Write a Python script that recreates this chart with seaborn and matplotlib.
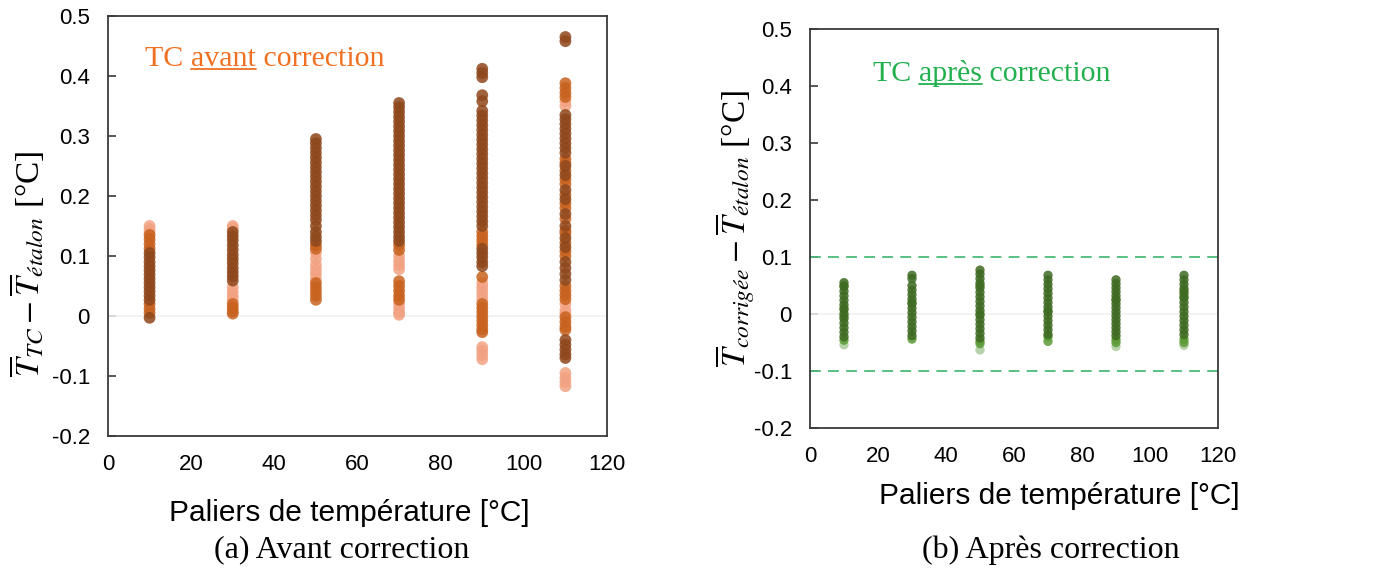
import numpy as np
import pandas as pd
import matplotlib
matplotlib.use("Agg")
import matplotlib.pyplot as plt
from matplotlib.lines import Line2D
import seaborn as sns

# ---------------- data ----------------
paliers = [10, 30, 50, 70, 90, 110]
xticks = [0, 20, 40, 60, 80, 100, 120]
yticks = [-0.2, -0.1, 0, 0.1, 0.2, 0.3, 0.4, 0.5]
ytick_labels = ["-0.2", "-0.1", "0", "0.1", "0.2", "0.3", "0.4", "0.5"]

# Avant correction (three shades of thermocouple groups)
avant_dark = {
    10: [0.105, 0.098, 0.090, 0.083, 0.076, 0.069, 0.062, 0.055, 0.048, 0.041, 0.034, 0.027, -0.003],
    30: [0.140, 0.133, 0.126, 0.118, 0.110, 0.102, 0.095, 0.088, 0.080, 0.073, 0.066, 0.059],
    50: [0.295, 0.288, 0.280, 0.272, 0.264, 0.256, 0.248, 0.240, 0.232, 0.224, 0.216, 0.208, 0.200,
         0.192, 0.184, 0.176, 0.168, 0.160, 0.150, 0.140, 0.132, 0.125],
    70: [0.355, 0.348, 0.340, 0.332, 0.324, 0.316, 0.308, 0.300, 0.292, 0.284, 0.276, 0.268, 0.260,
         0.252, 0.244, 0.236, 0.228, 0.220, 0.212, 0.204, 0.196, 0.188, 0.180, 0.172, 0.164, 0.156,
         0.148, 0.140, 0.132, 0.125],
    90: [0.412, 0.405, 0.398, 0.368, 0.358, 0.342, 0.334, 0.326, 0.318, 0.310, 0.302, 0.294, 0.286,
         0.278, 0.270, 0.262, 0.254, 0.246, 0.238, 0.230, 0.222, 0.214, 0.206, 0.198, 0.190, 0.182,
         0.174, 0.166, 0.158, 0.150, 0.112, 0.105, 0.098, 0.090, 0.083],
    110: [0.465, 0.458, 0.335, 0.328, 0.320, 0.312, 0.304, 0.296, 0.288, 0.280, 0.272, 0.250, 0.235,
          0.210, 0.195, 0.170, 0.150, 0.130, 0.115, 0.090, 0.080, 0.070, 0.060, -0.040, -0.048,
          -0.056, -0.064, -0.070],
}
avant_mid = {
    10: [0.135, 0.128, 0.120, 0.112, 0.020, 0.012, 0.005],
    30: [0.020, 0.014, 0.008, 0.004],
    50: [0.118, 0.112, 0.055, 0.048, 0.041, 0.034, 0.027],
    70: [0.118, 0.110, 0.058, 0.050, 0.042, 0.034, 0.027],
    90: [0.140, 0.133, 0.126, 0.119, 0.065, 0.020, 0.013, 0.006, -0.001, -0.008, -0.015, -0.022, -0.027],
    110: [0.388, 0.380, 0.372, 0.365, 0.262, 0.255, 0.242, 0.228, 0.220, 0.202, 0.188, 0.180, 0.162,
          0.142, 0.138, 0.122, 0.108, 0.100, 0.050, 0.042, 0.035, 0.028, -0.002, -0.010, -0.018, -0.023],
}
avant_light = {
    10: [0.150, 0.145, 0.140],
    30: [0.150, 0.146, 0.048, 0.040, 0.033, 0.027],
    50: [0.105, 0.095, 0.085, 0.077, 0.070, 0.062],
    70: [0.100, 0.092, 0.085, 0.078, 0.020, 0.013, 0.006, 0.002],
    90: [0.055, 0.048, 0.041, 0.034, 0.027, -0.052, -0.058, -0.065, -0.072],
    110: [0.358, 0.350, 0.020, 0.010, 0.004, -0.095, -0.103, -0.110, -0.117],
}

# Après correction
apres_dark = {
    10: [0.055, 0.048, 0.040, 0.032, 0.024, 0.016, 0.008, 0.000, -0.008, -0.016, -0.024, -0.032, -0.040],
    30: [0.068, 0.062, 0.050, 0.042, 0.034, 0.026, 0.018, 0.010, 0.002, -0.006, -0.014, -0.022, -0.030, -0.038],
    50: [0.077, 0.070, 0.062, 0.054, 0.046, 0.038, 0.030, 0.022, 0.014, 0.006, -0.002, -0.010, -0.018,
         -0.026, -0.034, -0.042],
    70: [0.068, 0.060, 0.052, 0.044, 0.036, 0.028, 0.020, 0.012, 0.004, -0.004, -0.012, -0.020, -0.028, -0.036],
    90: [0.060, 0.053, 0.046, 0.039, 0.032, 0.025, 0.018, 0.011, 0.004, -0.003, -0.010, -0.017, -0.024,
         -0.031, -0.038],
    110: [0.068, 0.060, 0.052, 0.044, 0.036, 0.028, 0.020, 0.012, 0.004, -0.004, -0.012, -0.020, -0.028, -0.036],
}
apres_mid = {
    10: [0.050, 0.010, -0.004, -0.046],
    30: [0.020, -0.044],
    50: [0.050, 0.000, -0.048, -0.052],
    70: [0.005, -0.040, -0.048],
    90: [0.025, -0.045, -0.050],
    110: [0.040, 0.030, -0.044, -0.050],
}
apres_light = {
    10: [-0.054],
    30: [],
    50: [-0.063],
    70: [],
    90: [-0.057],
    110: [-0.055],
}
tolerance = [0.1, -0.1]


def to_frame(groups):
    rows = []
    for name, d in groups:
        for p in paliers:
            for v in d[p]:
                rows.append({"palier": p, "ecart": v, "groupe": name})
    return pd.DataFrame(rows)


df_avant = to_frame([("light", avant_light), ("mid", avant_mid), ("dark", avant_dark)])
df_apres = to_frame([("light", apres_light), ("mid", apres_mid), ("dark", apres_dark)])

pal_avant = {"dark": "#8E471B", "mid": "#C8621E", "light": "#F2A283"}
pal_apres = {"dark": "#3F6A22", "mid": "#5C9A36", "light": "#A9CC9A"}

# ---------------- style ----------------
sns.set_theme(style="white")
plt.rcParams["font.family"] = ["Liberation Sans", "DejaVu Sans"]
plt.rcParams["mathtext.fontset"] = "stix"
SERIF = ["Liberation Serif", "DejaVu Serif"]

fig = plt.figure(figsize=(13.76, 5.72), dpi=100)
ax1 = fig.add_axes([108 / 1376, 1 - 436 / 572, 499 / 1376, 420 / 572])
ax2 = fig.add_axes([810 / 1376, 1 - 428 / 572, 408 / 1376, 399 / 572])

sns.scatterplot(data=df_avant, x="palier", y="ecart", hue="groupe", palette=pal_avant,
                s=72, alpha=0.85, linewidth=0, legend=False, ax=ax1, zorder=3)
sns.scatterplot(data=df_apres, x="palier", y="ecart", hue="groupe", palette=pal_apres,
                s=45, alpha=0.85, linewidth=0, legend=False, ax=ax2, zorder=3)

for ax in (ax1, ax2):
    ax.set_xlim(0, 120)
    ax.set_ylim(-0.2, 0.5)
    ax.set_xticks(xticks)
    ax.set_yticks(yticks)
    ax.set_yticklabels(ytick_labels)
    ax.axhline(0, color="#f1f1f1", lw=1.2, zorder=1)
    for sp in ax.spines.values():
        sp.set_color("#3a3a3a")
        sp.set_linewidth(1.3)
    ax.tick_params(axis="y", direction="in", length=6, width=1.2, color="#3a3a3a",
                   labelsize=16, pad=13, left=True, labelcolor="black")
    ax.tick_params(axis="x", length=0, labelsize=16, pad=13, labelcolor="black")
    ax.grid(False)

for yv in tolerance:
    ax2.axhline(yv, color="#4CBB78", lw=1.3, ls=(0, (6, 4)), zorder=2)

# axis labels
ax1.set_xlabel("Paliers de température [°C]", fontsize=21.5, color="black")
ax1.xaxis.set_label_coords(0.483, -0.15)
ax2.set_xlabel("Paliers de température [°C]", fontsize=21.5, color="black")
ax2.xaxis.set_label_coords(0.61, -0.135)

ax1.set_ylabel(r"$\overline{T}_{TC}-\overline{T}_{étalon}$ [°C]", fontsize=24, family=SERIF,
               color="black")
ax1.yaxis.set_label_coords(-0.122, 0.41)
ax2.set_ylabel(r"$\overline{T}_{corrigée}-\overline{T}_{étalon}$ [°C]", fontsize=24, family=SERIF,
               color="black")
ax2.yaxis.set_label_coords(-0.13, 0.5)


def underlined_label(ax, x, y, pre, word, post, color):
    t1 = ax.text(x, y, pre, transform=ax.transAxes, fontsize=21.5, color=color,
                 family=SERIF, va="baseline")
    t2 = ax.annotate(word, xy=(1, 0), xycoords=t1, fontsize=21.5, color=color,
                     family=SERIF, va="bottom")
    t3 = ax.annotate(post, xy=(1, 0), xycoords=t2, fontsize=21.5, color=color,
                     family=SERIF, va="bottom")
    return t2


w1 = underlined_label(ax1, 0.074, 0.88, "TC ", "avant", " correction", "#F07022")
w2 = underlined_label(ax2, 0.154, 0.87, "TC ", "après", " correction", "#22B04E")

fig.canvas.draw()
r = fig.canvas.get_renderer()
for w, color in ((w1, "#F07022"), (w2, "#22B04E")):
    bb = w.get_window_extent(r)
    yline = bb.y0 + 3
    fig.add_artist(Line2D([bb.x0 / fig.bbox.width, bb.x1 / fig.bbox.width],
                          [yline / fig.bbox.height, yline / fig.bbox.height],
                          transform=fig.transFigure, color=color, lw=1.3))

# captions
fig.text(342 / 1376, 1 - 550 / 572, "(a) Avant correction", fontsize=23, ha="center", va="center",
         family=SERIF, color="black")
fig.text(1051 / 1376, 1 - 550 / 572, "(b) Après correction", fontsize=23, ha="center", va="center",
         family=SERIF, color="black")

fig.savefig("out.png", dpi=100, facecolor="white")
